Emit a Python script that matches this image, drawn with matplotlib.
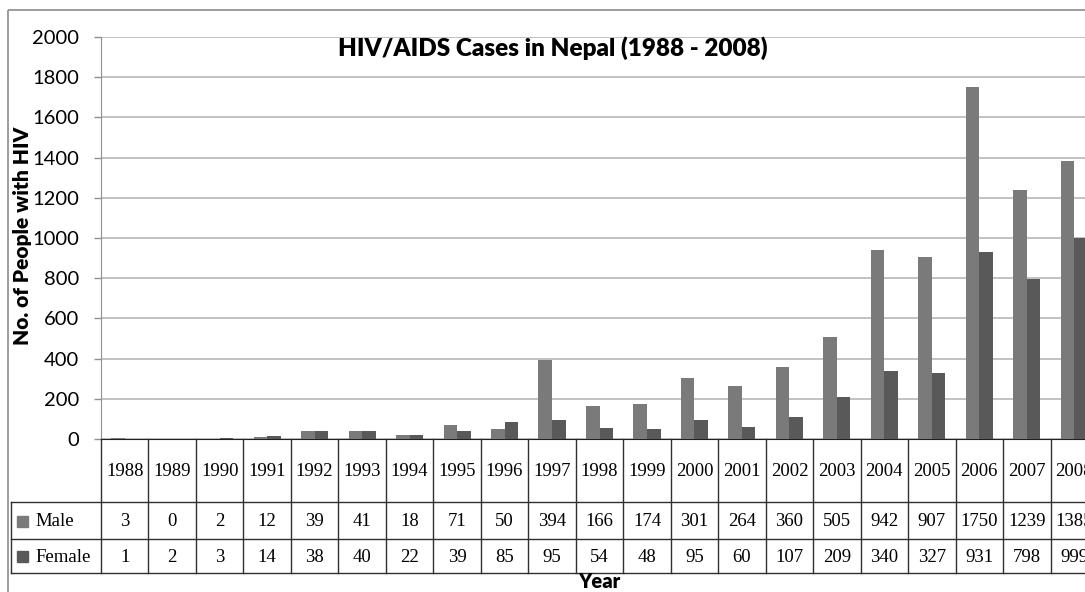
import matplotlib

matplotlib.use('Agg')
import matplotlib.pyplot as plt
from matplotlib.transforms import blended_transform_factory
from matplotlib.patches import Rectangle

years = ['1988', '1989', '1990', '1991', '1992', '1993', '1994', '1995', '1996', '1997',
         '1998', '1999', '2000', '2001', '2002', '2003', '2004', '2005', '2006', '2007', '2008']
male = [3, 0, 2, 12, 39, 41, 18, 71, 50, 394, 166, 174, 301, 264, 360, 505, 942, 907, 1750, 1239, 1385]
female = [1, 2, 3, 14, 38, 40, 22, 39, 85, 95, 54, 48, 95, 60, 107, 209, 340, 327, 931, 798, 999]
series = ['Male', 'Female']
colors = ['#7a7a7a', '#595959']
y_ticks = [0, 200, 400, 600, 800, 1000, 1200, 1400, 1600, 1800, 2000]

W, H = 1085, 592
SANS = ['Lato', 'DejaVu Sans']
SERIF = ['Liberation Serif', 'DejaVu Serif']

fig = plt.figure(figsize=(W / 100, H / 100), dpi=100)

# plot area in pixels: x 101 -> 1098 (runs past the right edge), y 37 -> 439
left, right, top, bottom = 101, 1098, 37, 439
ax = fig.add_axes([left / W, 1 - bottom / H, (right - left) / W, (bottom - top) / H])

n = len(years)
xs = list(range(n))
bw = 0.285
ax.bar([x - bw / 2 for x in xs], male, width=bw, color=colors[0], zorder=3)
ax.bar([x + bw / 2 for x in xs], female, width=bw, color=colors[1], zorder=3)

ax.set_xlim(-0.5, n - 0.5)
ax.set_ylim(0, 2000)
ax.set_yticks(y_ticks)
ax.set_yticklabels([str(t) for t in y_ticks], fontfamily=SANS, fontsize=14.5)
ax.set_xticks([])
ax.grid(axis='y', color='#b8b8b8', linewidth=1.2, zorder=0)
ax.tick_params(axis='y', length=5, width=1, color='#909090', pad=11)
for s in ['top', 'right']:
    ax.spines[s].set_visible(False)
ax.spines['left'].set_color('#909090')
ax.spines['bottom'].set_color('#202020')

# overlay in pixel coordinates for frame, titles and data table
ov = fig.add_axes([0, 0, 1, 1], zorder=5)
ov.set_xlim(0, W)
ov.set_ylim(H, 0)
ov.axis('off')
ov.patch.set_visible(False)

ov.add_patch(Rectangle((8, 10), 1200, 700, fill=False, edgecolor='#8c8c8c', linewidth=1.2))

ov.text(553, 48, 'HIV/AIDS Cases in Nepal (1988 - 2008)', ha='center', va='center',
        fontfamily=SANS, fontweight='heavy', fontsize=17.5)
ov.text(23, 236, 'No. of People with HIV', ha='center', va='center', rotation=90,
        fontfamily=SANS, fontweight='heavy', fontsize=15)
ov.text((left + right) / 2, 581, 'Year', ha='center', va='center',
        fontfamily=SANS, fontweight='heavy', fontsize=14.5)

# table
tr = blended_transform_factory(ax.transData, ov.transData)
row_y = [439, 502, 539, 573]
line_c = '#303030'
for i in range(n + 1):
    ov.plot([i - 0.5, i - 0.5], [row_y[0], row_y[-1]], color=line_c, lw=1, transform=tr, clip_on=False)
for y in row_y[1:]:
    ov.plot([11, 1200], [y, y], color=line_c, lw=1, clip_on=False)
ov.plot([11, 11], [row_y[1], row_y[-1]], color=line_c, lw=1)

for i, yr in enumerate(years):
    ov.text(i, (row_y[0] + row_y[1]) / 2 + 1, yr, ha='center', va='center', transform=tr,
            fontfamily=SERIF, fontsize=13.5, clip_on=False)
    ov.text(i, (row_y[1] + row_y[2]) / 2 + 1, str(male[i]), ha='center', va='center', transform=tr,
            fontfamily=SERIF, fontsize=13.5, clip_on=False)
    ov.text(i, (row_y[2] + row_y[3]) / 2 + 1, str(female[i]), ha='center', va='center', transform=tr,
            fontfamily=SERIF, fontsize=13.5, clip_on=False)

for k, name in enumerate(series):
    yc = (row_y[k + 1] + row_y[k + 2]) / 2
    ov.add_patch(Rectangle((17, yc - 5), 11, 11, color=colors[k]))
    ov.text(35, yc + 1, name, ha='left', va='center', fontfamily=SERIF, fontsize=13.5)

fig.savefig('out.png', dpi=100)
plt.close(fig)
